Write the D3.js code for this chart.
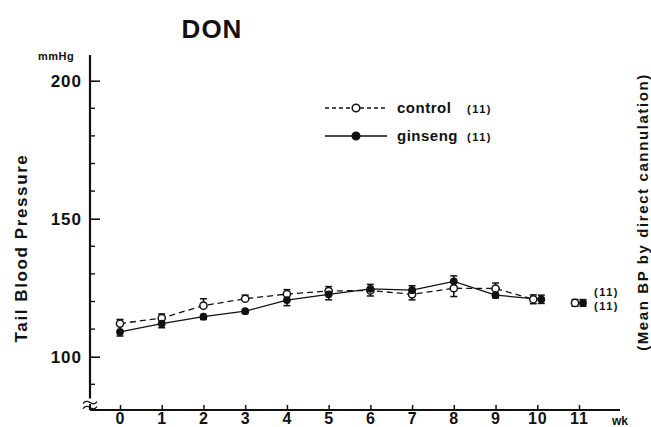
<!DOCTYPE html>
<html>
<head>
<meta charset="utf-8">
<script src="https://cdn.jsdelivr.net/npm/d3@7"></script>
<style>
  body { margin: 0; background: #fff; }
  text { font-family: "Liberation Sans", Arial, sans-serif; font-weight: bold; fill: #111; }
</style>
</head>
<body>
<script>
// weeks of treatment
const weeks = [0, 1, 2, 3, 4, 5, 6, 7, 8, 9, 10, 11];
// tail blood pressure, mmHg (mean, SE)
const controlMean = [112, 114, 118.5, 121, 122.7, 123.8, 124, 122.6, 124.8, 124.7, 120.8, 119.5];
const controlSE   = [1.5, 1.5, 2.5, 1.3, 1.6, 1.6, 2, 2, 3, 2, 1.6, 1.2];
const ginsengMean = [109, 112, 114.5, 116.5, 120.5, 122.6, 124.6, 124.1, 127.3, 122.3, 120.8, 119.5];
const ginsengSE   = [1.5, 1.5, 1, 0.8, 2, 2, 1.6, 1.6, 2, 1, 1.5, 1.2];
const yMajor = [100, 150, 200];
const yMinor = [90, 110, 120, 130, 140, 160, 170, 180, 190];

const W = 651, H = 427;
const svg = d3.select("body").append("svg").attr("width", W).attr("height", H);

const x = d3.scaleLinear().domain([0, 11]).range([120, 579]);
const y = d3.scaleLinear().domain([100, 200]).range([356.7, 80.7]);
const xAxisVal = 80.7, yTop = 209.3, breakVal = 87;
const x0 = 90;

// title and axis labels
svg.append("text").attr("x", 212).attr("y", 38).attr("text-anchor", "middle")
  .style("font-size", "26px").style("letter-spacing", "1px").text("DON");
svg.append("text").attr("x", 38).attr("y", 60).style("font-size", "11px").style("letter-spacing", "0.5px").text("mmHg");
svg.append("text").attr("transform", "translate(27,248) rotate(-90)").attr("text-anchor", "middle")
  .style("font-size", "17px").style("letter-spacing", "1.6px").text("Tail  Blood  Pressure");
svg.append("text").attr("transform", "translate(648,212) rotate(-90)").attr("text-anchor", "middle")
  .style("font-size", "15px").style("letter-spacing", "1.6px").text("(Mean  BP  by  direct  cannulation)");

// y axis
const yAx = svg.append("g").attr("transform", `translate(${x0},0)`)
  .call(d3.axisLeft(y).tickValues(yMajor).tickSizeInner(-10).tickSizeOuter(0).tickPadding(8));
yAx.select(".domain").remove();
yAx.selectAll(".tick line").attr("stroke", "#111").attr("stroke-width", 1.6);
yAx.selectAll(".tick text").style("font-size", "17px").style("letter-spacing", "1px")
  .style("font-family", "Liberation Sans, Arial, sans-serif");
svg.append("g").selectAll("line").data(yMinor).join("line")
  .attr("x1", x0).attr("x2", x0 + 5).attr("y1", d => y(d)).attr("y2", d => y(d))
  .attr("stroke", "#111").attr("stroke-width", 1.4);
svg.append("line").attr("x1", x0).attr("x2", x0).attr("y1", y(yTop)).attr("y2", y(breakVal) + 6)
  .attr("stroke", "#111").attr("stroke-width", 2.2);
svg.append("line").attr("x1", x0).attr("x2", x0).attr("y1", y(xAxisVal) - 6).attr("y2", y(xAxisVal))
  .attr("stroke", "#111").attr("stroke-width", 2);
// break marks
[0, 5].forEach(dy => {
  const yy = y(breakVal) + 10 + dy;
  svg.append("path").attr("d", `M${x0 - 7},${yy + 1} q3,-4 7,-1 q4,3 7,-1`)
    .attr("fill", "none").attr("stroke", "#111").attr("stroke-width", 1.3);
});

// x axis
const xAx = svg.append("g").attr("transform", `translate(0,${y(xAxisVal)})`)
  .call(d3.axisBottom(x).tickValues(weeks).tickSizeInner(-5).tickSizeOuter(0).tickPadding(3));
xAx.select(".domain").remove();
xAx.selectAll(".tick line").attr("stroke", "#111").attr("stroke-width", 1.5);
xAx.selectAll(".tick text").style("font-size", "16px").style("letter-spacing", "1px")
  .style("font-family", "Liberation Sans, Arial, sans-serif");
svg.append("line").attr("x1", x0).attr("x2", 620).attr("y1", y(xAxisVal)).attr("y2", y(xAxisVal))
  .attr("stroke", "#111").attr("stroke-width", 2);
svg.append("text").attr("x", 612).attr("y", 425).style("font-size", "12px").text("wk");

// series
const ctrl = weeks.map((w, i) => ({ w, m: controlMean[i], se: controlSE[i], other: ginsengMean[i] }));
const gins = weeks.map((w, i) => ({ w, m: ginsengMean[i], se: ginsengSE[i], other: controlMean[i] }));
const offset = (d, side) => (d.w >= 10 ? side * 4 : 0);

const line = side => d3.line().x(d => x(d.w) + offset(d, side)).y(d => y(d.m));
svg.append("path").datum(ctrl.filter(d => d.w <= 10)).attr("d", line(-1))
  .attr("fill", "none").attr("stroke", "#111").attr("stroke-width", 1.3).attr("stroke-dasharray", "6,4");
svg.append("path").datum(gins.filter(d => d.w <= 10)).attr("d", line(1))
  .attr("fill", "none").attr("stroke", "#111").attr("stroke-width", 1.3);

function errorBars(data, side) {
  const g = svg.append("g").attr("stroke", "#111").attr("stroke-width", 1.5);
  data.forEach(d => {
    const cx = x(d.w) + offset(d, side);
    const dirs = d.m > d.other ? [1] : d.m < d.other ? [-1] : [1, -1];
    dirs.forEach(s => {
      const ye = y(d.m + s * d.se);
      g.append("line").attr("x1", cx).attr("x2", cx).attr("y1", y(d.m)).attr("y2", ye);
      g.append("line").attr("x1", cx - 3.5).attr("x2", cx + 3.5).attr("y1", ye).attr("y2", ye);
    });
  });
}
errorBars(ctrl, -1);
errorBars(gins, 1);

svg.append("g").selectAll("circle").data(ctrl).join("circle")
  .attr("cx", d => x(d.w) + offset(d, -1)).attr("cy", d => y(d.m)).attr("r", 3.6)
  .attr("fill", "#fff").attr("stroke", "#111").attr("stroke-width", 1.5);
svg.append("g").selectAll("circle").data(gins).join("circle")
  .attr("cx", d => x(d.w) + offset(d, 1)).attr("cy", d => y(d.m)).attr("r", 3.9)
  .attr("fill", "#111");

svg.append("text").attr("x", 594).attr("y", 296).style("font-size", "11px").style("letter-spacing", "1.5px").text("(11)");
svg.append("text").attr("x", 594).attr("y", 310).style("font-size", "11px").style("letter-spacing", "1.5px").text("(11)");

// legend
const legend = [
  { label: "control", n: "(11)", dash: "4,3", fill: "#fff", y: 108 },
  { label: "ginseng", n: "(11)", dash: null, fill: "#111", y: 136 }
];
const lg = svg.append("g").selectAll("g").data(legend).join("g")
  .attr("transform", d => `translate(0,${d.y})`);
lg.append("line").attr("x1", 325).attr("x2", 387).attr("stroke", "#111").attr("stroke-width", 1.3)
  .attr("stroke-dasharray", d => d.dash);
lg.append("circle").attr("cx", 356).attr("r", 3.8).attr("fill", d => d.fill)
  .attr("stroke", "#111").attr("stroke-width", 1.5);
lg.append("text").attr("x", 397).attr("y", 5).style("font-size", "15px").style("letter-spacing", "0.5px").text(d => d.label);
lg.append("text").attr("x", 467).attr("y", 5).style("font-size", "11px").style("letter-spacing", "1.5px").text(d => d.n);
</script>
</body>
</html>
